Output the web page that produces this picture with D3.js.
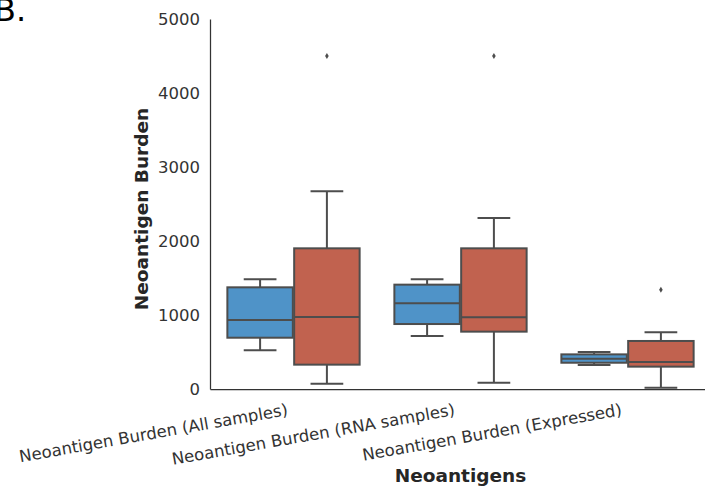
<!DOCTYPE html>
<html>
<head>
<meta charset="utf-8">
<script src="https://cdn.jsdelivr.net/npm/d3@7"></script>
<style>
  html, body { margin: 0; padding: 0; background: #fff; }
  svg { display: block; font-family: "DejaVu Sans", sans-serif; }
</style>
</head>
<body>
<svg id="chart" width="705" height="493"></svg>
<script>
// ---- data ----
const categories = ["Neoantigen Burden (All samples)", "Neoantigen Burden (RNA samples)", "Neoantigen Burden (Expressed)"];
const hues = ["A", "B"];
const hueColors = ["#4f93c8", "#c1624f"];
// box statistics per category, per hue: [whiskerLow, q1, median, q3, whiskerHigh]
const statsBlue = [
  [523, 693, 932, 1374, 1482],
  [716, 878, 1158, 1410, 1482],
  [324, 355, 410, 468, 500]
];
const statsRed = [
  [72, 329, 973, 1901, 2671],
  [86, 775, 969, 1901, 2311],
  [18, 302, 365, 649, 766]
];
const outliersBlue = [[], [], []];
const outliersRed = [[4500], [4500], [1340]];
const yTicks = [0, 1000, 2000, 3000, 4000, 5000];

(function () {
const svg = d3.select("#chart");
const mLeft = 210, mRight = 711, mTop = 19, mBottom = 389;

const x = d3.scaleBand().domain(categories).range([mLeft, mRight]).padding(0);
const inner = d3.scaleBand().domain(hues)
  .range([-0.4 * x.bandwidth(), 0.4 * x.bandwidth()]).padding(0);
const y = d3.scaleLinear().domain([0, 5000]).range([mBottom, mTop]);

const lineColor = "#4d4d4d";
const textColor = "#262626";
const tickColor = "#333";

// axes
const yAxis = svg.append("g").attr("transform", `translate(${mLeft},0)`)
  .call(d3.axisLeft(y).tickValues(yTicks).tickFormat(d3.format("d"))
    .tickSize(0).tickSizeOuter(0).tickPadding(10));
yAxis.selectAll("text").attr("font-size", 16.5).attr("fill", tickColor)
  .attr("font-family", "DejaVu Sans");
yAxis.select(".domain").attr("stroke", "#333").attr("stroke-width", 1.25);

const xAxis = svg.append("g").attr("transform", `translate(0,${mBottom})`)
  .call(d3.axisBottom(x).tickSize(0).tickSizeOuter(0));
xAxis.selectAll("text")
  .attr("x", 0).attr("y", 0).attr("dy", 0)
  .attr("text-anchor", "end")
  .attr("transform", "translate(-5,26) rotate(-10)")
  .attr("font-size", 16.5).attr("fill", tickColor)
  .attr("font-family", "DejaVu Sans");
xAxis.select(".domain").attr("stroke", "#333").attr("stroke-width", 1.25);

// boxes
const series = [
  { hue: hues[0], color: hueColors[0], stats: statsBlue, out: outliersBlue },
  { hue: hues[1], color: hueColors[1], stats: statsRed, out: outliersRed }
];
const boxW = inner.bandwidth() * 0.98;

series.forEach(s => {
  categories.forEach((c, i) => {
    const [wl, q1, med, q3, wh] = s.stats[i];
    const cx = x(c) + x.bandwidth() / 2 + inner(s.hue) + inner.bandwidth() / 2;
    const g = svg.append("g");
    g.append("line").attr("x1", cx).attr("x2", cx).attr("y1", y(q3)).attr("y2", y(wh))
      .attr("stroke", lineColor).attr("stroke-width", 2);
    g.append("line").attr("x1", cx).attr("x2", cx).attr("y1", y(q1)).attr("y2", y(wl))
      .attr("stroke", lineColor).attr("stroke-width", 2);
    [wl, wh].forEach(v => {
      g.append("line").attr("x1", cx - boxW / 4).attr("x2", cx + boxW / 4)
        .attr("y1", y(v)).attr("y2", y(v))
        .attr("stroke", lineColor).attr("stroke-width", 2);
    });
    g.append("rect").attr("x", cx - boxW / 2).attr("width", boxW)
      .attr("y", y(q3)).attr("height", y(q1) - y(q3))
      .attr("fill", s.color).attr("stroke", lineColor).attr("stroke-width", 2);
    g.append("line").attr("x1", cx - boxW / 2).attr("x2", cx + boxW / 2)
      .attr("y1", y(med)).attr("y2", y(med))
      .attr("stroke", lineColor).attr("stroke-width", 2);
    s.out[i].forEach(v => {
      g.append("path")
        .attr("d", `M${cx},${y(v) - 3} L${cx + 1.8},${y(v)} L${cx},${y(v) + 3} L${cx - 1.8},${y(v)} Z`)
        .attr("fill", lineColor);
    });
  });
});

// axis labels
svg.append("text").attr("x", (mLeft + mRight) / 2).attr("y", 482)
  .attr("text-anchor", "middle").attr("font-size", 18.5).attr("font-weight", "bold")
  .attr("fill", textColor).text("Neoantigens");
svg.append("text").attr("transform", "translate(148,209) rotate(-90)")
  .attr("text-anchor", "middle").attr("font-size", 18.5).attr("font-weight", "bold")
  .attr("fill", textColor).text("Neoantigen Burden");

// panel letter
svg.append("text").attr("x", -6).attr("y", 21).attr("font-size", 32)
  .attr("fill", "#000").text("B.");
})();
</script>
</body>
</html>
